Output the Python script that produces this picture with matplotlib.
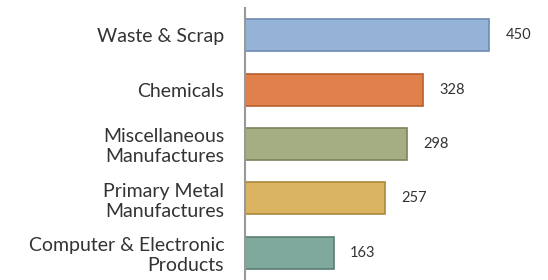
import matplotlib.pyplot as plt
import numpy as np

categories = ['Waste & Scrap', 'Chemicals', 'Miscellaneous\nManufactures',
              'Primary Metal\nManufactures', 'Computer & Electronic\nProducts']
values = [450, 328, 298, 257, 163]
colors = ['#95b3d7', '#e0804a', '#a5ad82', '#dab460', '#7ea99c']
edges = ['#6e8bb0', '#b5602f', '#7a8260', '#a88a3f', '#5a7e73']

plt.rcParams['font.family'] = ['Lato', 'DejaVu Sans']

fig = plt.figure(figsize=(5.48, 2.8), dpi=100)
ax = fig.add_axes([245 / 548, 0, 303 / 548, 272 / 280])

y = np.arange(len(values))
ax.barh(y, values, height=0.59, color=colors, edgecolor=edges, linewidth=1.2)
ax.set_ylim(len(values) - 0.5, -0.5)
ax.set_xlim(0, 558)

for yi, v in zip(y, values):
    ax.text(v + 30, yi, str(v), va='center', ha='left', fontsize=10.5, color='#333333')

ax.set_yticks(y)
ax.set_yticklabels(categories, fontsize=14, color='#333333', linespacing=1.2)
ax.tick_params(axis='y', length=0, pad=15)
ax.set_xticks([])
for s in ['top', 'right', 'bottom']:
    ax.spines[s].set_visible(False)
ax.spines['left'].set_color('#999999')
ax.spines['left'].set_linewidth(1.5)

fig.savefig('out.png', dpi=100)
